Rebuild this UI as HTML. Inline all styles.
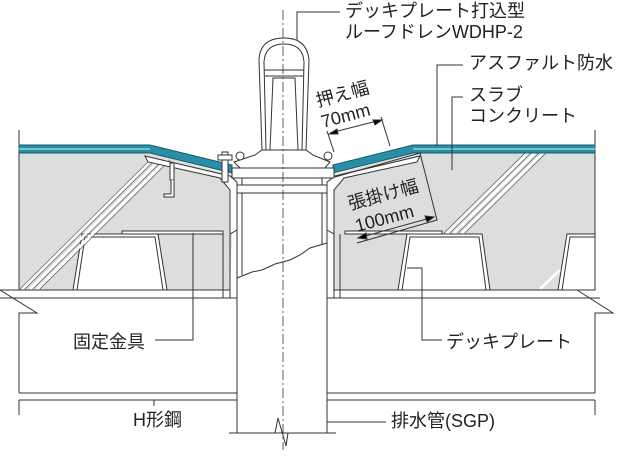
<!DOCTYPE html>
<html><head><meta charset="utf-8"><style>
html,body{margin:0;padding:0;background:#fff}
svg{display:block}
text{font-family:"Liberation Sans","Noto Sans CJK JP",sans-serif;font-size:18px;fill:#222}
</style></head><body>
<svg width="625" height="456" viewBox="0 0 625 456" xmlns="http://www.w3.org/2000/svg">
<g stroke="#333" stroke-width="1" fill="none">
<path d="M19,153 L150,153 L232,175 L232,234 L230,290 L19,290 Z" fill="#dcdddd" stroke="none"/>
<path d="M333,175 L413,153 L595,153 L595,290 L333,290 Z" fill="#dcdddd" stroke="none"/>
<line x1="19" y1="130" x2="19" y2="290"/>
<line x1="595" y1="130" x2="595" y2="290"/>
<path d="M73,290 L82,234 L158,234 L167,290 Z" fill="#fff"/>
<path d="M77,290 L85,237 L155,237 L163,290" />
<path d="M398,290 L407,234 L482,234 L490,290 Z" fill="#fff"/>
<path d="M402,290 L410,237 L479,237 L486,290" />
<path d="M558,290 L567,234 L595,234 L595,290 Z" fill="#fff"/>
<path d="M562,290 L570,237 L595,237" />
<rect x="122" y="231" width="101" height="3" fill="#fff"/>
<rect x="345" y="231" width="97" height="3" fill="#fff"/>
<line x1="223" y1="234" x2="223" y2="298"/><line x1="230" y1="234" x2="230" y2="298"/>
<line x1="334" y1="234" x2="334" y2="298"/><line x1="340" y1="234" x2="340" y2="298"/>
<g stroke="#fff" stroke-width="2.5"><line x1="22" y1="289" x2="152" y2="160"/><line x1="30" y1="289" x2="160" y2="160"/><line x1="37" y1="289" x2="167" y2="160"/>
<line x1="447" y1="233" x2="528" y2="153"/><line x1="454" y1="233" x2="535" y2="153"/><line x1="462" y1="233" x2="543" y2="153"/><line x1="540" y1="289" x2="560" y2="270"/></g>
<g stroke="#555" stroke-width="0.6"><line x1="20" y1="289" x2="150" y2="160"/><line x1="25" y1="289" x2="155" y2="160"/><line x1="33" y1="289" x2="163" y2="160"/><line x1="40" y1="289" x2="170" y2="160"/>
<line x1="444" y1="233" x2="525" y2="153"/><line x1="450" y1="233" x2="531" y2="153"/><line x1="458" y1="233" x2="539" y2="153"/><line x1="465" y1="233" x2="546" y2="153"/></g>
<line x1="0" y1="290" x2="230" y2="290"/><line x1="0" y1="298" x2="237" y2="298"/>
<line x1="334" y1="290" x2="577" y2="290"/><line x1="327" y1="298" x2="600" y2="298"/>
<polyline points="0,290 37,313 19,313 19,393"/>
<polyline points="577,290 613,313 595,313 595,393"/>
<line x1="19" y1="393" x2="237" y2="393"/><line x1="19" y1="400" x2="237" y2="400"/>
<line x1="327" y1="393" x2="595" y2="393"/><line x1="327" y1="400" x2="595" y2="400"/>
<line x1="19" y1="400" x2="19" y2="415"/><line x1="595" y1="400" x2="595" y2="415"/>
<path d="M19,145 L150,145 L232,165 L232,173 L150,153 L19,153 Z" fill="#2a8ea8" stroke="#1a5a6a"/>
<line x1="19" y1="149" x2="150" y2="149" stroke="#bfe"/>
<path d="M333,165 L413,145 L595,145 L595,153 L413,153 L333,173 Z" fill="#2a8ea8" stroke="#1a5a6a"/>
<line x1="413" y1="149" x2="595" y2="149" stroke="#bfe"/>
<path d="M145,156 L230,176 L237,182 L237,230 L230,234 L230,190 L220,178 L148,162 Z" fill="#fff"/>
<path d="M420,156 L335,176 L327,182 L327,230 L334,234 L334,190 L344,178 L417,162 Z" fill="#fff"/>
<path d="M170,163 L170,180 L174,180 L174,163 Z" fill="#fff"/>
<path d="M171,180 L171,194 L164,194 L164,197 L174,197 L174,180" fill="#fff"/>
<path d="M262,150 L259,60 Q260,38 284,38 Q307,38 309,60 L306,150" fill="#fff"/>
<path d="M266,150 L264,62 Q265,44 284,44 Q303,44 304,62 L302,150"/>
<path d="M270,150 L273,78 L295,78 L298,150" fill="#fff"/>
<line x1="264" y1="70" x2="304" y2="70"/><line x1="265" y1="76" x2="303" y2="76"/>
<path d="M255,155 L262,150 L306,150 L313,155 L330,162 L325,168 L240,168 L234,162 Z" fill="#fff"/>
<path d="M232,168 L334,168 L334,178 L232,178 Z" fill="#fff"/>
<rect x="237" y="185" width="90" height="8" fill="#fff"/>
<line x1="242" y1="178" x2="242" y2="185"/><line x1="322" y1="178" x2="322" y2="185"/>
<rect x="222" y="152" width="6" height="30" fill="#fff"/><rect x="218" y="155" width="14" height="5" fill="#fff"/>
<circle cx="240" cy="156" r="4" fill="#fff"/><circle cx="328" cy="156" r="4" fill="#fff"/>
<rect x="237" y="193" width="90" height="240" fill="#fff"/>
<line x1="242" y1="193" x2="242" y2="275"/><line x1="322" y1="193" x2="322" y2="245"/>
<path d="M237,278 L252,272 L262,270 L275,264 L290,260 L300,255 L310,248 L327,243"/>
<line x1="229" y1="433" x2="275" y2="433"/><polyline points="275,433 278,418 286,446 288,433 336,433"/>
<line x1="283" y1="10" x2="283" y2="450" stroke-dasharray="10,3,2,3" stroke-width="0.8"/>
<polyline points="297,40 297,12 340,12"/>
<polyline points="437,146 437,65 463,65"/>
<polyline points="452,170 452,97 463,97"/>
<polyline points="155,340 193,340 193,233"/>
<polyline points="442,340 422,340 422,268 407,268"/>
<line x1="154" y1="400" x2="154" y2="406"/>
<line x1="327" y1="422" x2="386" y2="422"/>
<line x1="327" y1="131" x2="334" y2="152"/><line x1="381" y1="117" x2="390" y2="146"/>
<line x1="330" y1="133" x2="381" y2="120"/>
<path d="M329,134 L337,129 L338,134 Z M382,120 L373,120 L375,125 Z" fill="#000"/>
<path d="M335,177 L420,153 L437,220 L357,243"/>
<line x1="358" y1="238" x2="434" y2="217"/>
<path d="M358,238 L366,233 L367,239 Z M434,217 L425,216 L427,222 Z" fill="#000"/>
</g>
<text x="345" y="17">デッキプレート打込型</text>
<text x="345" y="38">ルーフドレンWDHP-2</text>
<text x="469" y="69">アスファルト防水</text>
<text x="469" y="101">スラブ</text>
<text x="469" y="122">コンクリート</text>
<text transform="translate(318,107) rotate(-15)">押え幅</text>
<text transform="translate(323,128) rotate(-15)">70mm</text>
<text transform="translate(350,210) rotate(-15)">張掛け幅</text>
<text transform="translate(357,232) rotate(-15)">100mm</text>
<text x="73" y="348">固定金具</text>
<text x="446" y="348">デッキプレート</text>
<text x="133" y="426">H形鋼</text>
<text x="391" y="427">排水管(SGP)</text>
</svg>
</body></html>
